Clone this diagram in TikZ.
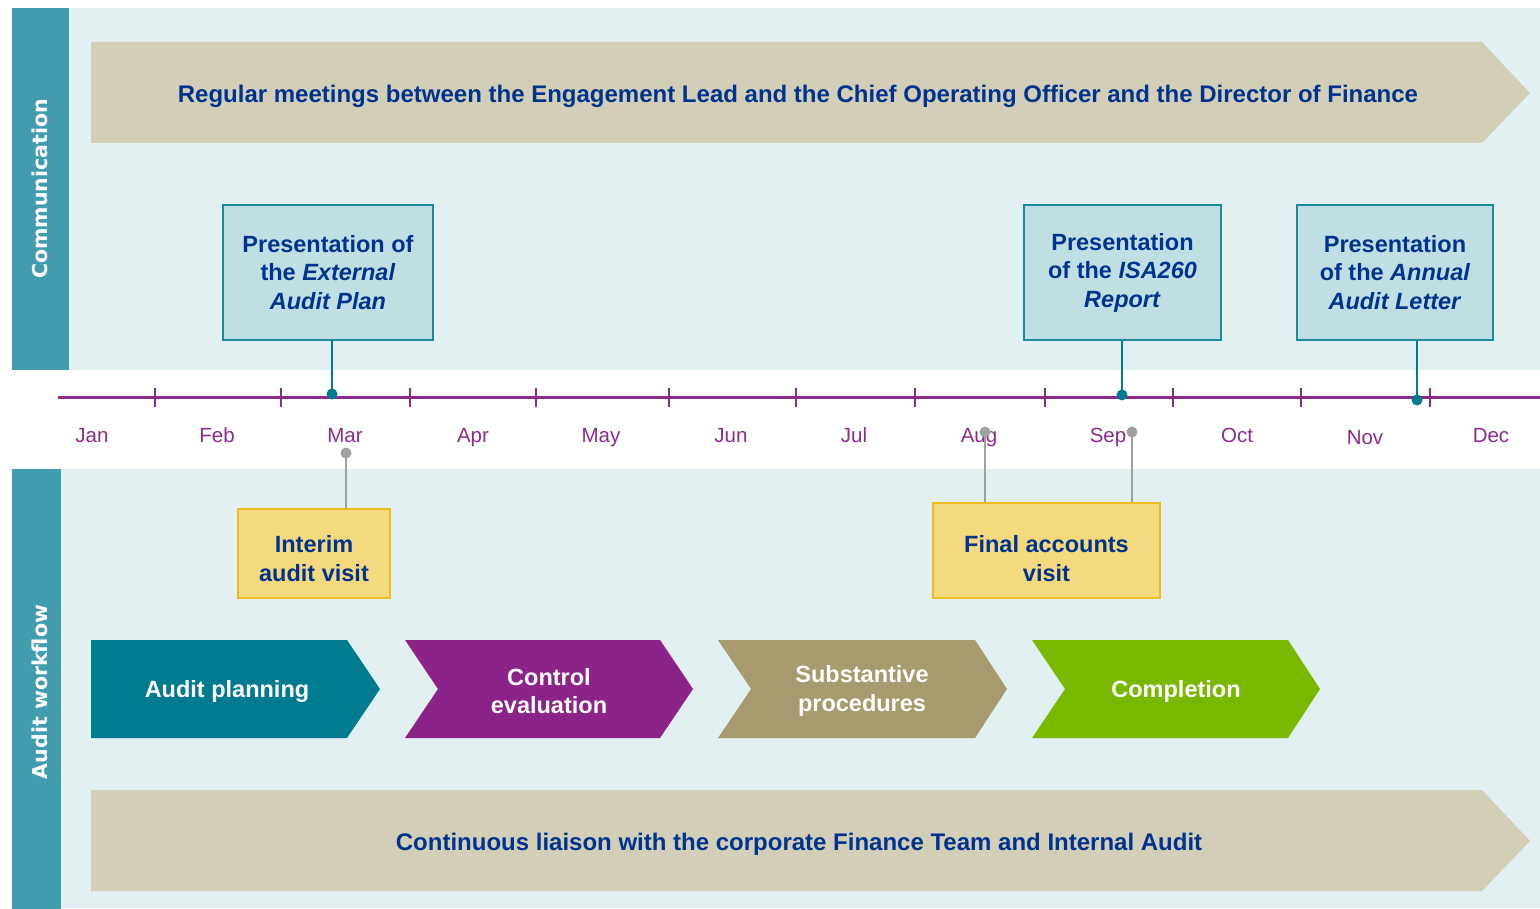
\documentclass[tikz,border=0pt]{standalone}
\usepackage{fontspec}
\setmainfont{Liberation Sans}
\newfontfamily\sidefont{DejaVu Sans}
\usetikzlibrary{positioning}
\definecolor{sideteal}{HTML}{419CAD}
\definecolor{panelbg}{HTML}{E2F0F1}
\definecolor{bannertan}{HTML}{D3CEB7}
\definecolor{navytext}{HTML}{00338D}
\definecolor{boxblue}{HTML}{C0DFE3}
\definecolor{boxedge}{HTML}{1B8C9C}
\definecolor{linkteal}{HTML}{007B8D}
\definecolor{monthpurple}{HTML}{8E2A8C}
\definecolor{visityellow}{HTML}{F5D97E}
\definecolor{visitedge}{HTML}{EDBB22}
\definecolor{linkgrey}{HTML}{A0A0A0}
\definecolor{phaseteal}{HTML}{007B8F}
\definecolor{phasepurple}{HTML}{8B2389}
\definecolor{phasekhaki}{HTML}{A59B6E}
\definecolor{phasegreen}{HTML}{7AB800}
\begin{document}
\begin{tikzpicture}[x=1pt, y=-1pt,
		sidelabel/.style={rotate=90, text=white, font=\sidefont\bfseries\fontsize{20.5}{24}\selectfont},
		bannertext/.style={text=navytext, font=\bfseries\fontsize{24}{28}\selectfont, yshift=-2pt},
		talkbox/.style={draw=boxedge, line width=1.2pt, fill=boxblue, text=navytext, align=center,
			font=\bfseries\fontsize{23.5}{28.5}\selectfont, minimum height=135, inner sep=0pt},
		visitbox/.style={draw=visitedge, line width=1.2pt, fill=visityellow, text=navytext, align=center,
			font=\bfseries\fontsize{23.5}{28.5}\selectfont, inner sep=0pt},
		phasetext/.style={text=white, align=center, font=\bfseries\fontsize{23.5}{28.5}\selectfont},
		month/.style={text=monthpurple, anchor=base, font=\fontsize{20.5}{24}\selectfont},
		dot/.style={circle, fill, inner sep=0pt, minimum size=11}
		]
		\useasboundingbox (0,0) rectangle (1540,909);
		% panels
		\fill[sideteal] (12,8) rectangle (69,370);
		\fill[panelbg] (69,8) rectangle (1540,370);
		\fill[sideteal] (12,469) rectangle (61,909);
		\fill[panelbg] (61,469) rectangle (1540,908);
		\node[sidelabel](Comm) at (40,189){Communication};
		\node[sidelabel](Work) at (40,692){Audit workflow};
		% banners
		\fill[bannertan] (91,42) -- (1482,42) -- (1530,93) -- (1482,143) -- (91,143) -- cycle;
		\node[bannertext](Meet) at (798,94){Regular meetings between the Engagement Lead and the Chief Operating Officer and the Director of Finance};
		\fill[bannertan] (91,790) -- (1482,790) -- (1530,841) -- (1482,891) -- (91,891) -- cycle;
		\node[bannertext](Liaise) at (799,842){Continuous liaison with the corporate Finance Team and Internal Audit};
		% timeline
		\draw[monthpurple, line width=3pt] (58,397) -- (1540,397);
		\draw[monthpurple, line width=2.2pt] (155,388) -- (155,407) (281,388) -- (281,407)
			(410,388) -- (410,407) (536,388) -- (536,407) (669,388) -- (669,407)
			(796,388) -- (796,407) (915,388) -- (915,407) (1045,388) -- (1045,407)
			(1173,388) -- (1173,407) (1301,388) -- (1301,407) (1430,388) -- (1430,407);
		\node[month](Jan) at (92,442){Jan};
		\node[month](Feb) at (217,442){Feb};
		\node[month](Mar) at (345,442){Mar};
		\node[month](Apr) at (473,442){Apr};
		\node[month](May) at (601,442){May};
		\node[month](Jun) at (731,442){Jun};
		\node[month](Jul) at (854,442){Jul};
		\node[month](Aug) at (979,442){Aug};
		\node[month](Sep) at (1108,442){Sep};
		\node[month](Oct) at (1237,442){Oct};
		\node[month](Nov) at (1365,444){Nov};
		\node[month](Dec) at (1491,442){Dec};
		% communication boxes
		\node[talkbox, minimum width=210](P1) at (328,272.5){Presentation of\\the \textit{External}\\\textit{Audit Plan}};
		\node[talkbox, minimum width=197](P2) at (1122.5,272.5){Presentation\\of the \textit{ISA260}\\\textit{Report}};
		\node[talkbox, minimum width=196](P3) at (1395,272.5){Presentation\\of the \textit{Annual}\\\textit{Audit Letter}};
		\node[dot, linkteal](D1) at (332,394){};
		\node[dot, linkteal](D2) at (1122,395){};
		\node[dot, linkteal](D3) at (1417,400){};
		\draw[linkteal, line width=2.4pt] (D1.center) -- (D1 |- P1.south);
		\draw[linkteal, line width=2.4pt] (D2.center) -- (D2 |- P2.south);
		\draw[linkteal, line width=2.4pt] (D3.center) -- (D3 |- P3.south);
		% visits
		\node[visitbox, minimum width=152, minimum height=89](V1) at (314,553.5){\rule{0pt}{27pt}Interim\\audit visit};
		\node[visitbox, minimum width=227, minimum height=95](V2) at (1046.5,550.5){\rule{0pt}{33pt}Final accounts\\visit};
		\node[dot, linkgrey](G1) at (346,453){};
		\node[dot, linkgrey](G2) at (985,432){};
		\node[dot, linkgrey](G3) at (1132,432){};
		\draw[linkgrey, line width=2.4pt] (G1.center) -- (G1 |- V1.north);
		\draw[linkgrey, line width=2.4pt] (G2.center) -- (G2 |- V2.north);
		\draw[linkgrey, line width=2.4pt] (G3.center) -- (G3 |- V2.north);
		% workflow phases
		\fill[phaseteal] (91,640) -- (347,640) -- (380,689) -- (347,738) -- (91,738) -- cycle;
		\fill[phasepurple] (405,640) -- (660,640) -- (693,689) -- (660,738) -- (405,738) -- (438,689) -- cycle;
		\fill[phasekhaki] (718,640) -- (975,640) -- (1007,689) -- (975,738) -- (718,738) -- (751,689) -- cycle;
		\fill[phasegreen] (1032,640) -- (1288,640) -- (1320,689) -- (1288,738) -- (1032,738) -- (1065,689) -- cycle;
		\node[phasetext](Plan) at (227,691){Audit planning};
		\node[phasetext](Ctrl) at (549,691){Control\\evaluation};
		\node[phasetext](Subs) at (862,691){Substantive\\procedures};
		\node[phasetext](Comp) at (1176,691){Completion};
	\end{tikzpicture}
\end{document}
